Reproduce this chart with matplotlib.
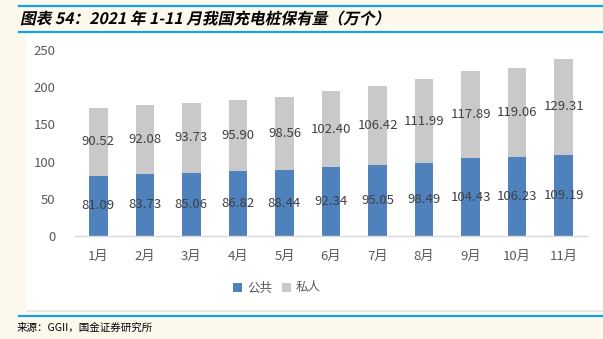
import matplotlib.pyplot as plt
import numpy as np
from matplotlib.patches import Rectangle, PathPatch
from matplotlib.lines import Line2D
from matplotlib.textpath import TextPath
from matplotlib.font_manager import FontProperties
from matplotlib.transforms import Affine2D

# -------- DATA --------
months = ["1月", "2月", "3月", "4月", "5月", "6月", "7月", "8月", "9月", "10月", "11月"]
public = [81.09, 83.73, 85.06, 86.82, 88.44, 92.34, 95.05, 98.49, 104.43, 106.23, 109.19]
private = [90.52, 92.08, 93.73, 95.90, 98.56, 102.40, 106.42, 111.99, 117.89, 119.06, 129.31]

# -------- STYLE --------
W, H = 603, 339
DPI = 100
BG = "#FDF8EC"
LINE_BLUE = "#12A3E6"
BAR_BLUE = "#4F81BD"
BAR_GRAY = "#C9C9C9"
TEXT_GRAY = "#595959"
LABEL_GRAY = "#404040"

plt.rcParams["font.family"] = ["Noto Sans CJK SC", "DejaVu Sans"]


def fx(px):
    return px / W


def fy(py):
    return 1 - py / H


fig = plt.figure(figsize=(W / DPI, H / DPI), dpi=DPI, facecolor=BG)

# white chart panel with faint shadow
fig.patches.append(Rectangle((fx(27), fy(312)), 1 - fx(27), fy(34) - fy(312),
                             transform=fig.transFigure, facecolor="#E6E6E6",
                             edgecolor="none", zorder=-3))
fig.patches.append(Rectangle((fx(26), fy(310)), 1 - fx(26), fy(33) - fy(310),
                             transform=fig.transFigure, facecolor="white",
                             edgecolor="none", zorder=-2))

# header / footer rules
for y in (6, 32, 316):
    fig.lines.append(Line2D([fx(19), 1], [fy(y), fy(y)], transform=fig.transFigure,
                            color=LINE_BLUE, lw=1.6, zorder=-1))

# slanted bold title (CJK font has no italic, so shear the glyph outlines)
title = "图表 54：2021 年 1-11 月我国充电桩保有量（万个）"
fp = FontProperties(family="Noto Sans CJK SC", weight="bold")
tp = TextPath((0, 0), title, size=11.3 * DPI / 72, prop=fp)
tr = Affine2D().skew_deg(12, 0).scale(1 / W, 1 / H).translate(fx(20), fy(24)) + fig.transFigure
fig.patches.append(PathPatch(tp, transform=tr, facecolor="black", edgecolor="none", lw=0))

fig.text(fx(17), fy(328), "来源：GGII，国金证券研究所", fontsize=7.6,
         color="black", va="center", ha="left")

ax = fig.add_axes([fx(75), fy(236), fx(587) - fx(75), fy(50) - fy(236)], zorder=2)
ax.set_facecolor("none")

x = np.arange(len(months))
bw = 0.4
b1 = ax.bar(x, public, bw, color=BAR_BLUE, label="公共", zorder=2)
b2 = ax.bar(x, private, bw, bottom=public, color=BAR_GRAY, label="私人", zorder=2)

for i in range(len(months)):
    ax.text(x[i], public[i] / 2, f"{public[i]:.2f}", ha="center", va="center",
            fontsize=9.5, color=LABEL_GRAY, zorder=3)
    ax.text(x[i], public[i] + private[i] / 2, f"{private[i]:.2f}", ha="center",
            va="center", fontsize=9.5, color=LABEL_GRAY, zorder=3)

ax.set_xlim(-0.5, len(months) - 0.5)
ax.set_ylim(0, 250)
ax.set_yticks([0, 50, 100, 150, 200, 250])
ax.set_xticks(x)
ax.set_xticklabels(months)
ax.tick_params(axis="both", length=0, labelsize=9.5, colors=TEXT_GRAY)
ax.tick_params(axis="y", pad=14)
ax.tick_params(axis="x", pad=10)
for s in ("top", "right", "left"):
    ax.spines[s].set_visible(False)
ax.spines["bottom"].set_color("#D9D9D9")
ax.spines["bottom"].set_linewidth(1)

leg = fig.legend(handles=[b1, b2], loc="center", bbox_to_anchor=(fx(277), fy(288)),
                 ncol=2, frameon=False, fontsize=9, handlelength=0.7, handleheight=0.7,
                 handletextpad=0.4, columnspacing=0.8)
for t in leg.get_texts():
    t.set_color(TEXT_GRAY)

fig.savefig("out.png", dpi=DPI, facecolor=BG)
